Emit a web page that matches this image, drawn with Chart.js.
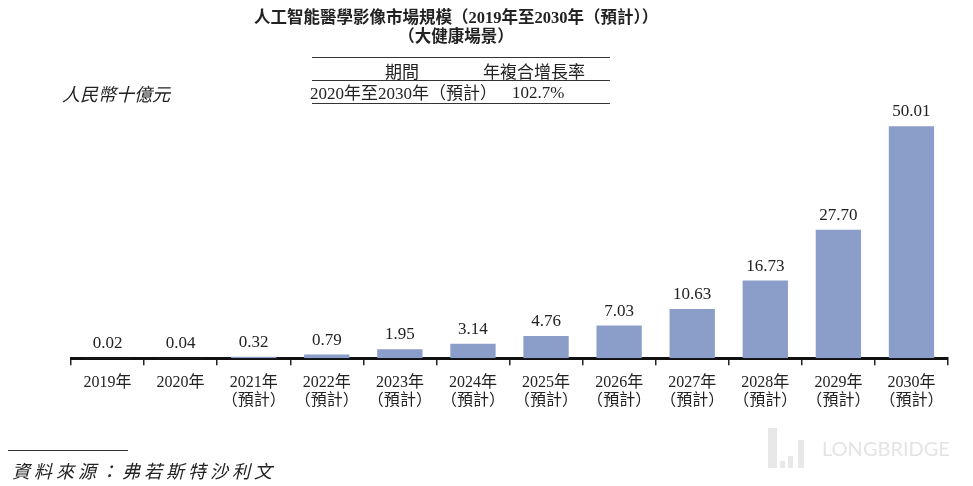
<!DOCTYPE html>
<html>
<head>
<meta charset="utf-8">
<script src="https://cdn.jsdelivr.net/npm/chart.js@4"></script>
<style>
  body { margin: 0; background: #fff; }
  #wrap { position: relative; width: 973px; height: 486px; overflow: hidden;
          font-family: "Liberation Serif", "Noto Sans CJK TC", serif; color: #222; }
  #wrap canvas { position: absolute; left: 0; top: 0; }
  .abs { position: absolute; white-space: nowrap; }
  .title { left: 0; width: 912px; text-align: center; font-weight: bold; font-size: 16.5px; }
  .rule { position: absolute; height: 0; border-top: 1px solid #333; }
</style>
</head>
<body>
<div id="wrap">
  <canvas id="barChart" width="973" height="486"></canvas>
  <div class="abs title" style="top:4px;">人工智能醫學影像市場規模（2019年至2030年（預計））</div>
  <div class="abs title" style="top:23px;">（大健康場景）</div>

  <div class="rule" style="left:312px; width:298px; top:57px;"></div>
  <div class="abs" style="left:385px; top:58px; font-size:17px;">期間</div>
  <div class="abs" style="left:483px; top:58px; font-size:17px;">年複合增長率</div>
  <div class="rule" style="left:312px; width:298px; top:80px;"></div>
  <div class="abs" style="left:310px; top:79px; font-size:17px;">2020年至2030年（預計）</div>
  <div class="abs" style="left:512px; top:83px; font-size:17px;">102.7%</div>
  <div class="rule" style="left:312px; width:298px; top:103px;"></div>

  <div class="abs" style="left:62px; top:80px; font-size:18px; font-style:italic;">人民幣十億元</div>

  <div class="rule" style="left:8px; width:120px; top:450px;"></div>
  <div class="abs" style="left:12px; top:457px; font-size:18px; font-style:italic; letter-spacing:4px;">資料來源：弗若斯特沙利文</div>

  <div class="abs" style="left:768px; top:428px; width:40px; height:40px;">
    <div class="abs" style="left:0; top:0; width:9px; height:40px; background:#e8e8e8;"></div>
    <div class="abs" style="left:12px; top:33px; width:5px; height:7px; background:#e8e8e8;"></div>
    <div class="abs" style="left:20px; top:28px; width:5px; height:12px; background:#e8e8e8;"></div>
    <div class="abs" style="left:30px; top:12px; width:6px; height:28px; background:#e8e8e8;"></div>
  </div>
  <div class="abs" style="left:822px; top:436px; font-family: Lato, 'Open Sans', sans-serif; font-size:20px; color:#e4e4e4;">LONGBRIDGE</div>
</div>
<script>
// 年份與數值（人民幣十億元）
const years = ['2019年', '2020年', '2021年', '2022年', '2023年', '2024年',
               '2025年', '2026年', '2027年', '2028年', '2029年', '2030年'];
const forecastFlag = [false, false, true, true, true, true, true, true, true, true, true, true];
const marketSize = [0.02, 0.04, 0.32, 0.79, 1.95, 3.14, 4.76, 7.03, 10.63, 16.73, 27.70, 50.01];

const labels = years.map((y, i) => forecastFlag[i] ? [y, '（預計）'] : [y]);

// 柱子上方的數值
const valueLabels = {
  id: 'valueLabels',
  afterDatasetsDraw(chart) {
    const ctx = chart.ctx;
    const meta = chart.getDatasetMeta(0);
    ctx.save();
    ctx.font = '17px "Liberation Serif", serif';
    ctx.fillStyle = '#222';
    ctx.textAlign = 'center';
    ctx.textBaseline = 'bottom';
    meta.data.forEach((bar, i) => {
      ctx.fillText(marketSize[i].toFixed(2), bar.x, bar.y - 6);
    });
    ctx.restore();
  }
};

new Chart(document.getElementById('barChart'), {
  type: 'bar',
  data: {
    labels: labels,
    datasets: [{
      data: marketSize,
      backgroundColor: '#8a9ec9',
      barPercentage: 0.62,
      categoryPercentage: 1.0
    }]
  },
  options: {
    responsive: false,
    animation: false,
    layout: { padding: { left: 71, right: 25, top: 103, bottom: 68 } },
    plugins: { legend: { display: false }, tooltip: { enabled: false } },
    scales: {
      x: {
        offset: true,
        grid: { display: true, offset: true, drawOnChartArea: false, tickLength: 7, color: '#222', lineWidth: 1.5 },
        border: { display: true, color: '#111', width: 3 },
        ticks: {
          color: '#222',
          padding: 8,
          maxRotation: 0,
          autoSkip: false,
          font: { family: '"Liberation Serif", "Noto Sans CJK TC", serif', size: 16, lineHeight: 1.15 }
        }
      },
      y: {
        display: false,
        min: 0,
        max: 55
      }
    }
  },
  plugins: [valueLabels]
});
</script>
</body>
</html>
